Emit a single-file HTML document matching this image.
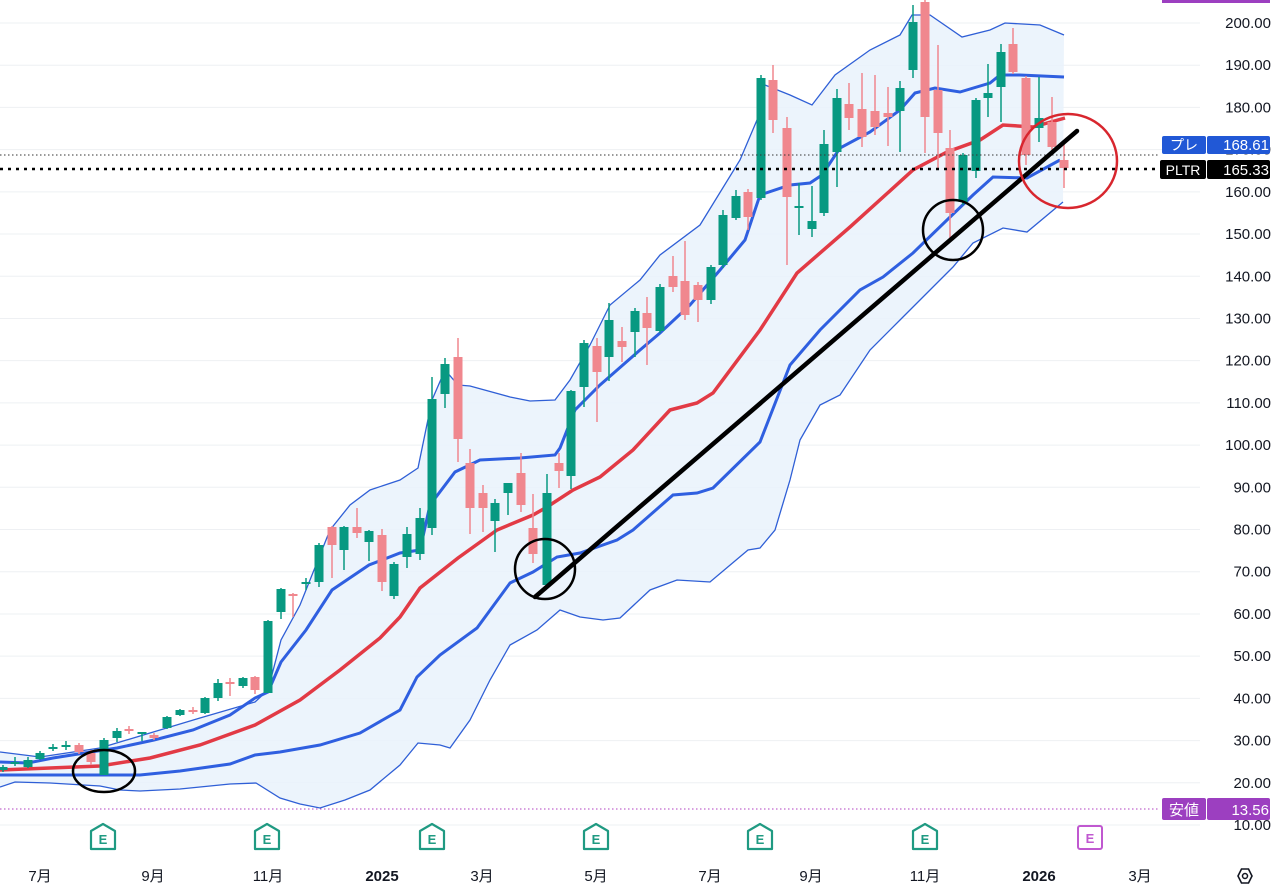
<!DOCTYPE html>
<html><head><meta charset="utf-8"><style>
html,body{margin:0;padding:0;background:#fff;}
svg{display:block;font-family:"Liberation Sans","Noto Sans CJK JP",sans-serif;}
</style></head><body>
<svg id="c" width="1280" height="893" viewBox="0 0 1280 893" xmlns="http://www.w3.org/2000/svg">
<rect width="1280" height="893" fill="#fff"/>
<g id="grid" stroke="#eef0f3" stroke-width="1"></g>
<polygon id="fill" fill="#e9f2fc" opacity="0.85"/>
<polyline id="ut" fill="none" stroke="#2f5fd6" stroke-width="1.3"/>
<polyline id="lt" fill="none" stroke="#2f5fd6" stroke-width="1.3"/>
<polyline id="uk" fill="none" stroke="#2f5fe0" stroke-width="3"/>
<polyline id="lk" fill="none" stroke="#2f5fe0" stroke-width="3"/>
<polyline id="mid" fill="none" stroke="#e23a45" stroke-width="3.5"/>
<g id="candles"></g>
<line x1="0" y1="155" x2="1160" y2="155" stroke="#333" stroke-width="1" stroke-dasharray="1.5,2.5"/>
<line x1="0" y1="169" x2="1160" y2="169" stroke="#000" stroke-width="2.5" stroke-dasharray="3,5"/>
<line x1="0" y1="809" x2="1160" y2="809" stroke="#b040c0" stroke-width="1" stroke-dasharray="1.5,2.5"/>
<line x1="535" y1="597" x2="1077" y2="131" stroke="#000" stroke-width="4.5" stroke-linecap="round"/>
<ellipse cx="104" cy="771" rx="31" ry="21" fill="none" stroke="#000" stroke-width="2.5"/>
<circle cx="545" cy="569" r="30" fill="none" stroke="#000" stroke-width="2.5"/>
<circle cx="953" cy="230" r="30" fill="none" stroke="#000" stroke-width="2.5"/>
<ellipse cx="1068" cy="161" rx="49" ry="47" fill="none" stroke="#d8262e" stroke-width="2.5"/>
<g id="ylab" font-size="15" fill="#131722" text-anchor="end"></g>
<rect x="1162" y="0" width="108" height="3" fill="#9c3fc0"/>
<rect x="1162" y="136" width="44" height="18" rx="2" fill="#2158d6"/>
<rect x="1207" y="136" width="63" height="18" rx="2" fill="#2158d6"/>
<text x="1184" y="150" font-size="14" fill="#fff" text-anchor="middle">プレ</text>
<text x="1269" y="150" font-size="15" fill="#fff" text-anchor="end">168.61</text>
<rect x="1160" y="160" width="46" height="19" rx="2" fill="#000"/>
<rect x="1207" y="160" width="63" height="19" rx="2" fill="#000"/>
<text x="1183" y="175" font-size="14" fill="#fff" text-anchor="middle">PLTR</text>
<text x="1269" y="175" font-size="15" fill="#fff" text-anchor="end">165.33</text>
<rect x="1162" y="798" width="44" height="22" rx="2" fill="#9c3fc0"/>
<rect x="1207" y="798" width="63" height="22" rx="2" fill="#9c3fc0"/>
<text x="1184" y="815" font-size="15" fill="#fff" text-anchor="middle">安値</text>
<text x="1269" y="815" font-size="15" fill="#fff" text-anchor="end">13.56</text>
<g id="earn"></g>
<g font-size="15" fill="#131722" text-anchor="middle">
<text x="40" y="881">7月</text><text x="153" y="881">9月</text><text x="268" y="881">11月</text>
<text x="382" y="881" font-weight="bold">2025</text><text x="482" y="881">3月</text><text x="596" y="881">5月</text>
<text x="710" y="881">7月</text><text x="811" y="881">9月</text><text x="925" y="881">11月</text>
<text x="1039" y="881" font-weight="bold">2026</text><text x="1140" y="881">3月</text>
</g>
<polygon points="1238,876 1241.5,869 1248.5,869 1252,876 1248.5,883 1241.5,883" fill="none" stroke="#131722" stroke-width="1.6"/>
<circle cx="1245" cy="876" r="2.5" fill="none" stroke="#131722" stroke-width="1.5"/>
</svg>
<script>
var NS="http://www.w3.org/2000/svg";
function el(t,a,p){var e=document.createElementNS(NS,t);for(var k in a)e.setAttribute(k,a[k]);if(p)p.appendChild(e);return e;}
var g=document.getElementById('grid'),yl=document.getElementById('ylab');
for(var v=10;v<=200;v+=10){var y=23+(200-v)*4.221;
 el('line',{x1:0,x2:1200,y1:y,y2:y},g);
 if(v!==20||true){var t=el('text',{x:1271,y:y+5},yl);t.textContent=v.toFixed(2);}}
function P(a){return a.map(function(p){return p.join(',')}).join(' ');}
var ut=[[0,752],[40,757],[100,748],[150,733],[200,718],[255,702],[268,690],[281,640],[300,605],[330,530],[350,505],[370,490],[400,480],[418,468],[432,400],[445,370],[458,385],[470,386],[510,397],[530,401],[555,400],[570,380],[590,345],[610,305],[640,280],[660,255],[700,225],[740,160],[757,120],[765,85],[790,95],[812,105],[835,75],[870,50],[900,35],[912,15],[930,15],[962,37],[990,30],[1005,23],[1040,25],[1064,35]];
var lt=[[0,787],[15,782],[50,783],[100,786],[120,790],[140,791],[180,789],[230,784],[256,783],[280,798],[300,804],[320,808],[345,800],[370,790],[400,765],[418,743],[440,745],[450,748],[470,720],[490,680],[510,645],[537,630],[560,610],[580,617],[603,620],[620,618],[650,590],[677,580],[710,582],[748,550],[760,548],[775,530],[790,480],[800,440],[820,405],[840,395],[870,350],[900,320],[930,290],[953,267],[973,243],[1003,228],[1027,232],[1063,202]];
var uk=[[0,762],[28,763],[53,758],[91,752],[117,748],[154,740],[193,730],[230,715],[255,698],[268,692],[281,662],[306,630],[332,590],[369,565],[400,553],[420,550],[430,505],[455,472],[480,460],[520,458],[555,455],[560,448],[575,410],[600,385],[640,350],[660,333],[690,305],[720,270],[745,240],[760,195],[790,185],[810,183],[822,175],[840,148],[870,132],[900,110],[915,93],[935,88],[960,92],[990,83],[1000,75],[1020,75],[1064,77]];
var mid=[[0,770],[100,766],[150,758],[200,745],[255,725],[300,700],[340,670],[380,638],[400,617],[420,588],[458,558],[497,530],[533,515],[547,507],[573,490],[600,477],[633,450],[670,410],[697,403],[713,393],[760,330],[797,273],[850,227],[913,170],[947,152],[980,140],[1003,125],[1033,127],[1065,118]];
var lk=[[0,775],[100,775],[140,775],[180,771],[230,764],[255,755],[280,752],[320,745],[360,733],[400,710],[417,677],[440,655],[477,628],[510,583],[533,572],[557,557],[580,553],[617,540],[633,530],[673,495],[697,493],[713,488],[760,442],[790,365],[820,330],[860,290],[883,277],[913,253],[947,220],[973,195],[993,177],[1027,178],[1060,160]];
document.getElementById('ut').setAttribute('points',P(ut));
document.getElementById('lt').setAttribute('points',P(lt));
document.getElementById('uk').setAttribute('points',P(uk));
document.getElementById('lk').setAttribute('points',P(lk));
document.getElementById('mid').setAttribute('points',P(mid));
document.getElementById('fill').setAttribute('points',P(ut.concat(lt.slice().reverse())));
// x, top, bottom, wickTop, wickBottom, green?
var C=[[3,767,770,765,772,1],[15,762,764,757,766,1],[28,760,767,757,768,1],[40,753,759,751,760,1],[53,747,749,744,751,1],[66,745,747,741,750,1],[79,745,752,743,754,0],[91,753,762,750,765,0],[104,740,775,738,775,1],[117,731,738,728,742,1],[129,729,731,726,734,0],[142,732,734,732,741,1],[154,735,738,733,740,0],[167,717,728,716,729,1],[180,710,715,709,716,1],[193,710,712,707,714,0],[205,698,713,697,714,1],[218,683,698,679,701,1],[230,682,684,678,696,0],[243,678,686,677,688,1],[255,677,690,676,694,0],[268,621,693,620,693,1],[281,589,612,588,619,1],[293,594,596,593,617,0],[306,582,584,578,590,1],[319,545,582,543,587,1],[332,527,545,526,578,0],[344,527,550,526,570,1],[357,527,533,508,538,0],[369,531,542,530,561,1],[382,535,582,529,591,0],[394,564,596,562,599,1],[407,534,557,527,568,1],[420,518,554,508,560,1],[432,399,528,377,535,1],[445,364,394,358,408,1],[458,357,439,338,462,0],[470,463,508,449,534,0],[483,493,508,485,532,0],[495,503,521,499,552,1],[508,483,493,483,515,1],[521,473,505,453,512,0],[533,528,554,494,563,0],[547,493,585,474,587,1],[559,463,471,453,488,0],[571,391,476,390,489,1],[584,343,387,340,407,1],[597,346,372,338,422,0],[609,320,357,303,381,1],[622,341,347,327,362,0],[635,311,332,308,357,1],[647,313,328,297,365,0],[660,287,331,284,333,1],[673,276,287,256,292,0],[685,281,315,241,320,0],[698,285,300,282,322,0],[711,267,300,265,304,1],[723,215,265,210,268,1],[736,196,218,190,220,1],[748,192,217,189,230,0],[761,78,198,75,200,1],[773,80,120,65,133,0],[787,128,197,117,265,0],[799,206,208,183,235,1],[812,221,229,186,237,1],[824,144,213,130,216,1],[837,98,152,89,187,1],[849,104,118,83,130,0],[862,109,137,73,147,0],[875,111,127,75,135,0],[888,113,117,87,146,0],[900,88,111,81,152,1],[913,22,70,5,78,1],[925,2,117,0,153,0],[938,90,133,45,168,0],[950,148,213,130,242,0],[963,155,202,153,205,1],[976,100,171,98,178,1],[988,93,98,64,117,1],[1001,52,87,44,122,1],[1013,44,72,28,74,0],[1026,78,155,76,165,0],[1039,118,128,77,142,1],[1052,122,147,97,150,0],[1064,160,168,140,188,0]];
var cg=document.getElementById('candles');
C.forEach(function(c){var col=c[5]?'#089981':'#f0878e';
 el('line',{x1:c[0],x2:c[0],y1:c[3],y2:c[4],stroke:col,'stroke-width':1.5},cg);
 var h=Math.max(c[2]-c[1],2);
 el('rect',{x:c[0]-4.5,y:c[1],width:9,height:h,fill:col},cg);});
var eg=document.getElementById('earn');
[103,267,432,596,760,925].forEach(function(x){
 el('path',{d:'M'+(x-12)+',849 L'+(x-12)+',831 L'+x+',824 L'+(x+12)+',831 L'+(x+12)+',849 Z',fill:'#fff',stroke:'#1f9a82','stroke-width':2.2,'stroke-linejoin':'round'},eg);
 var t=el('text',{x:x,y:844,'font-size':13,'font-weight':'bold',fill:'#1f9a82','text-anchor':'middle'},eg);t.textContent='E';});
el('rect',{x:1078,y:826,width:24,height:23,rx:2,fill:'#fff',stroke:'#c058d0','stroke-width':2},eg);
var t2=el('text',{x:1090,y:843,'font-size':13,'font-weight':'bold',fill:'#c058d0','text-anchor':'middle'},eg);t2.textContent='E';
</script>
</body></html>
